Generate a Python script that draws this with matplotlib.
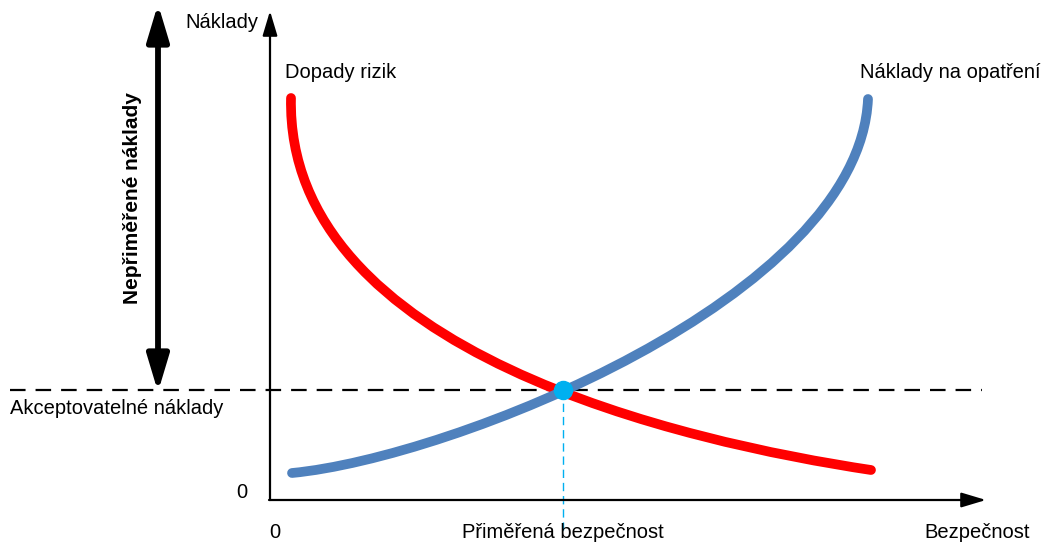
import matplotlib
matplotlib.use("Agg")
import numpy as np
import matplotlib.pyplot as plt
from matplotlib.path import Path
from matplotlib.patches import PathPatch

plt.rcParams['font.family'] = ['Liberation Sans', 'DejaVu Sans']

# Data (x = security, y = cost), in chart units
risk_x = [21, 21, 23, 27, 33, 43, 57, 73, 93, 117, 140, 187, 227, 267, 293, 357, 436, 516, 601]
risk_y = [402, 387, 363, 343, 323, 300, 277, 253, 230, 207, 189, 157, 135, 118, 110, 87, 63, 43, 30]
meas_x = [22, 79, 139, 198, 246, 293, 340, 390, 440, 477, 503, 528, 547, 565, 578, 588, 595, 598]
meas_y = [27, 37, 50, 70, 90, 110, 132, 157, 190, 217, 237, 264, 283, 307, 330, 353, 377, 401]
opt_x = 293
acceptable_cost = 110


def bezier_fit_path(xs, ys, iters=60):
    """Least-squares cubic Bezier (fixed end points) through the read points."""
    Q = np.column_stack([xs, ys]).astype(float)
    d = np.r_[0, np.cumsum(np.hypot(*np.diff(Q, axis=0).T))]
    t = d / d[-1]
    P0, P3 = Q[0], Q[-1]
    w = np.ones(len(Q))
    for _ in range(iters):
        b0 = (1 - t) ** 3
        b1 = 3 * t * (1 - t) ** 2
        b2 = 3 * t ** 2 * (1 - t)
        b3 = t ** 3
        A = np.column_stack([b1, b2]) * w[:, None]
        R = (Q - np.outer(b0, P0) - np.outer(b3, P3)) * w[:, None]
        sol, *_ = np.linalg.lstsq(A, R, rcond=None)
        P1, P2 = sol
        # Newton re-parameterisation
        B = np.outer(b0, P0) + np.outer(b1, P1) + np.outer(b2, P2) + np.outer(b3, P3)
        d1 = (np.outer(3 * (1 - t) ** 2, P1 - P0) + np.outer(6 * (1 - t) * t, P2 - P1)
              + np.outer(3 * t ** 2, P3 - P2))
        d2 = np.outer(6 * (1 - t), P2 - 2 * P1 + P0) + np.outer(6 * t, P3 - 2 * P2 + P1)
        diff = B - Q
        num = (diff * d1).sum(1)
        den = (d1 * d1).sum(1) + (diff * d2).sum(1)
        t = np.clip(t - num / np.where(np.abs(den) < 1e-9, 1e-9, den), 0, 1)
        t[0], t[-1] = 0.0, 1.0
    return Path([tuple(P0), tuple(P1), tuple(P2), tuple(P3)],
                [Path.MOVETO, Path.CURVE4, Path.CURVE4, Path.CURVE4])


fig = plt.figure(figsize=(10.44, 5.45), dpi=100)
ax = fig.add_axes([0, 0, 1, 1])
ax.set_xlim(-270, 774)
ax.set_ylim(-45, 500)
ax.axis('off')

# axes arrows
ax_style = '-|>,head_length=1.5,head_width=0.45'
ax.annotate('', xy=(0, 489), xytext=(0, 0),
            arrowprops=dict(arrowstyle=ax_style, lw=1.6, color='black', mutation_scale=10,
                            shrinkA=0, shrinkB=0))
ax.annotate('', xy=(716, 0), xytext=(-1, 0),
            arrowprops=dict(arrowstyle=ax_style, lw=1.6, color='black', mutation_scale=10,
                            shrinkA=0, shrinkB=0))

# acceptable cost dashed line
ax.plot([-260, 712], [acceptable_cost, acceptable_cost], color='black', lw=1.6,
        dashes=(7, 4.5), zorder=2)
# vertical dashed
ax.plot([opt_x, opt_x], [acceptable_cost, -30], color='#00B0F0', lw=1.0, dashes=(6, 3.5), zorder=2)

# curves
ax.add_patch(PathPatch(bezier_fit_path(risk_x, risk_y), fill=False, edgecolor='#FF0000', lw=7,
                       capstyle='round', joinstyle='round', zorder=3))
ax.add_patch(PathPatch(bezier_fit_path(meas_x, meas_y), fill=False, edgecolor='#4F81BD', lw=7,
                       capstyle='round', joinstyle='round', zorder=4))
ax.plot([opt_x], [acceptable_cost], 'o', color='#00B0F0', ms=13, zorder=5)

# double arrow
ax.annotate('', xy=(-112, 496), xytext=(-112, 108),
            arrowprops=dict(arrowstyle='<|-|>,head_length=1.1,head_width=0.33', lw=4.2,
                            color='black', mutation_scale=20, shrinkA=0, shrinkB=0))

fs = 14.5
ax.text(-85, 478, 'Náklady', fontsize=fs, ha='left', va='center')
ax.text(15, 428, 'Dopady rizik', fontsize=fs, ha='left', va='center')
ax.text(770, 428, 'Náklady na opatření', fontsize=fs, ha='right', va='center')
ax.text(-137, 302, 'Nepřiměřené náklady', fontsize=fs + 0.5, fontweight='bold',
        rotation=90, ha='center', va='center')
ax.text(-260, 92, 'Akceptovatelné náklady', fontsize=fs, ha='left', va='center')
ax.text(-28, 7, '0', fontsize=fs, ha='center', va='center')
ax.text(5, -32, '0', fontsize=fs, ha='center', va='center')
ax.text(opt_x, -32, 'Přiměřená bezpečnost', fontsize=fs, ha='center', va='center')
ax.text(760, -32, 'Bezpečnost', fontsize=fs, ha='right', va='center')

fig.savefig('out.png', dpi=100)
